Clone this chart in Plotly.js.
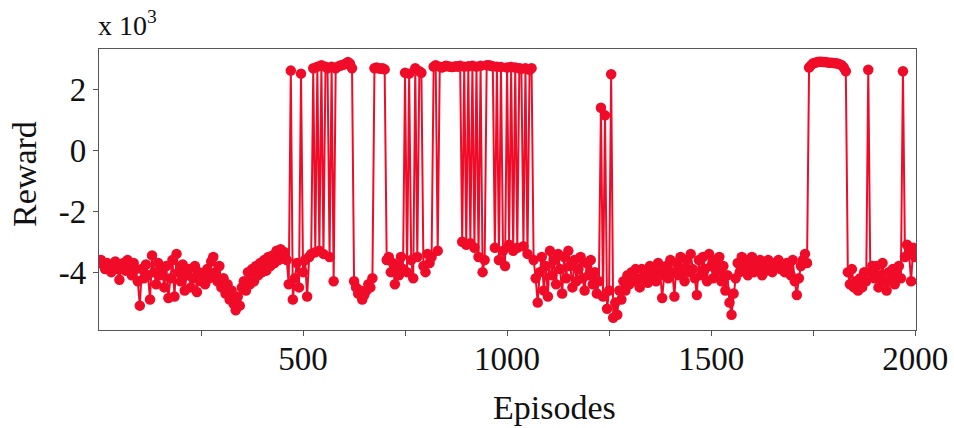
<!DOCTYPE html>
<html>
<head>
<meta charset="utf-8">
<script src="https://cdn.plot.ly/plotly-3.0.1.min.js"></script>
<style>html,body{margin:0;padding:0;background:#fff;}#chart{width:954px;height:428px;}</style>
</head>
<body>
<div id="chart"></div>
<script>
// Reward per episode, in units of 10^3, sampled every 5 episodes
const episodeStep = 5;
const reward0001_0250 = [-3.6, -3.75, -3.9, -3.7, -3.85, -4.0, -3.8, -3.65, -3.9, -4.25,
 -3.85, -3.7, -3.95, -3.6, -3.8, -4.1, -3.7, -3.9, -4.3, -5.1,
 -3.9, -4.2, -3.75, -4.1, -4.9, -3.45, -4.0, -4.4, -3.7, -4.1,
 -3.9, -4.5, -3.8, -4.85, -4.2, -3.6, -4.8, -3.4, -4.0, -4.3,
 -3.75, -4.6, -4.1, -3.9, -4.5, -4.2, -3.8, -4.65, -4.0, -4.3];
const reward0251_0500 = [-4.1, -4.4, -3.9, -4.2, -3.65, -3.5, -4.0, -4.3, -3.8, -4.5,
 -4.2, -4.7, -4.4, -4.9, -4.6, -5.05, -5.25, -4.8, -5.1, -4.5,
 -4.3, -4.6, -4.0, -4.4, -3.9, -4.3, -3.8, -4.1, -3.7, -4.0,
 -3.6, -3.95, -3.5, -3.8, -3.45, -3.7, -3.3, -3.6, -3.25, -3.55,
 -3.35, -3.6, -4.4, 2.62, -4.9, -4.2, -3.7, -4.5, 2.52, -4.0];
const reward0501_0750 = [-3.6, -4.8, -3.5, -3.4, 2.7, -3.35, 2.75, -3.3, 2.8, -3.4,
 2.75, 2.7, -3.5, 2.75, -4.3, 2.7, 2.75, 2.78, 2.8, 2.82,
 2.85, 2.9, 2.85, 2.7, -4.3, -4.5, -4.7, -4.6, -4.9, -4.75,
 -4.6, -4.4, -4.5, -4.2, 2.7, 2.72, 2.7, 2.68, 2.7, 2.66,
 -3.6, -3.5, -4.0, -3.7, -4.4, -3.8, -4.1, -3.5, -3.9, 2.55];
const reward0751_1000 = [-4.0, 2.52, -3.6, -4.2, 2.7, -3.5, 2.6, 2.55, -3.8, -4.0,
 -3.4, -3.7, -3.5, 2.75, 2.8, -3.3, 2.75, 2.72, 2.75, 2.78,
 2.76, 2.75, 2.74, 2.75, 2.76, 2.75, 2.78, -3.0, 2.75, -3.1,
 2.76, -3.05, 2.78, -3.2, 2.75, -3.5, 2.78, -4.0, -3.6, 2.8,
 2.8, 2.78, 2.76, -3.2, 2.75, -3.6, 2.74, -3.3, -3.8, 2.72];
const reward1001_1250 = [-3.1, 2.74, -3.3, 2.72, -3.2, 2.7, 2.68, -3.15, 2.7, -3.4,
 2.65, 2.7, -3.6, -4.2, -5.0, -4.0, -3.5, -4.6, -3.8, -4.8,
 -3.3, -4.1, -3.6, -4.4, -3.4, -3.9, -4.7, -3.5, -4.2, -3.3,
 -3.8, -4.5, -3.6, -4.3, -3.9, -3.5, -4.2, -4.6, -3.7, -4.1,
 -3.6, -4.4, -4.0, -4.7, -4.3, 1.4, -4.8, 1.15, -5.2, -4.6];
const reward1251_1500 = [2.5, -5.5, -5.0, -5.4, -4.6, -4.9, -4.3, -4.6, -4.1, -4.4,
 -4.0, -4.3, -3.9, -4.2, -4.5, -3.9, -4.2, -4.0, -4.35, -3.8,
 -4.1, -3.9, -4.3, -3.7, -4.0, -4.85, -4.1, -3.8, -4.2, -3.6,
 -4.0, -4.8, -3.7, -4.1, -3.5, -3.9, -4.3, -3.6, -4.0, -3.4,
 -3.9, -4.2, -4.75, -3.6, -4.1, -3.5, -3.9, -4.3, -3.4, -3.8];
const reward1501_1750 = [-4.2, -3.6, -4.0, -3.5, -4.3, -3.8, -4.6, -4.1, -5.0, -5.4,
 -4.7, -4.2, -3.7, -4.0, -3.5, -3.9, -3.6, -4.1, -3.8, -3.5,
 -4.0, -3.7, -3.9, -3.6, -4.1, -3.7, -3.95, -3.6, -3.8, -4.0,
 -3.7, -3.85, -3.6, -3.9, -3.75, -4.0, -3.7, -3.85, -4.1, -3.6,
 -4.3, -4.75, -4.2, -3.8, -3.6, -3.4, -3.7, 2.72, 2.8, 2.86];
const reward1751_2000 = [2.88, 2.9, 2.91, 2.91, 2.9, 2.9, 2.89, 2.88, 2.88, 2.87,
 2.86, 2.85, 2.83, 2.8, 2.72, 2.6, -4.0, -4.4, -3.9, -4.5,
 -4.3, -4.6, -4.2, -4.5, -4.0, -4.3, 2.65, -4.0, -3.8, -4.2,
 -3.8, -4.5, -4.1, -3.7, -4.3, -4.6, -4.0, -4.3, -3.9, -4.4,
 -4.1, -3.8, -4.2, 2.6, -3.5, -3.1, -3.4, -4.3, -3.2, -3.5];

const xTickVals = [250, 500, 750, 1000, 1250, 1500, 1750, 2000];
const xTickText = ['', '500', '', '1000', '', '1500', '', '2000'];
const yTickVals = [2, 0, -2, -4];
const yTickText = ['2', '0', '-2', '-4'];

const reward = [].concat(reward0001_0250, reward0251_0500, reward0501_0750, reward0751_1000,
  reward1001_1250, reward1251_1500, reward1501_1750, reward1751_2000);
const episodes = reward.map((_, i) => (i + 1) * episodeStep);

const red = 'rgb(240,12,40)';
const serif = 'Liberation Serif, Times New Roman, serif';

const trace = {
  x: episodes, y: reward, type: 'scatter', mode: 'lines+markers',
  line: {color: red, width: 2},
  marker: {color: red, size: 10.5},
  hoverinfo: 'x+y'
};

const axisCommon = {
  showline: true, mirror: true, linecolor: '#555', linewidth: 1.2,
  ticks: 'outside', ticklen: 5, tickcolor: '#555', tickwidth: 1,
  showgrid: false, zeroline: false,
  tickfont: {family: serif, size: 33, color: '#111'}
};

const layout = {
  width: 954, height: 428,
  margin: {l: 99, r: 38, t: 49, b: 98},
  paper_bgcolor: '#fff', plot_bgcolor: '#fff',
  showlegend: false,
  xaxis: Object.assign({}, axisCommon, {
    range: [0, 2002], tickmode: 'array', tickvals: xTickVals, ticktext: xTickText,
    ticklabelstandoff: -6
  }),
  yaxis: Object.assign({}, axisCommon, {
    range: [-5.9, 3.33], tickmode: 'array', tickvals: yTickVals, ticktext: yTickText
  }),
  annotations: [
    {text: 'Episodes', xref: 'paper', yref: 'paper', x: 0.558, y: -0.275,
     xanchor: 'center', yanchor: 'middle', showarrow: false,
     font: {family: serif, size: 34, color: '#111'}},
    {text: 'Reward', xref: 'paper', yref: 'paper', x: -0.092, y: 0.555,
     xanchor: 'center', yanchor: 'middle', showarrow: false, textangle: -90,
     font: {family: serif, size: 34, color: '#111'}},
    {text: 'x 10<sup>3</sup>', xref: 'paper', yref: 'paper', x: -0.004, y: 1.09,
     xanchor: 'left', yanchor: 'middle', showarrow: false,
     font: {family: serif, size: 28, color: '#111'}}
  ]
};

Plotly.newPlot('chart', [trace], layout, {displayModeBar: false, staticPlot: true});
</script>
</body>
</html>
